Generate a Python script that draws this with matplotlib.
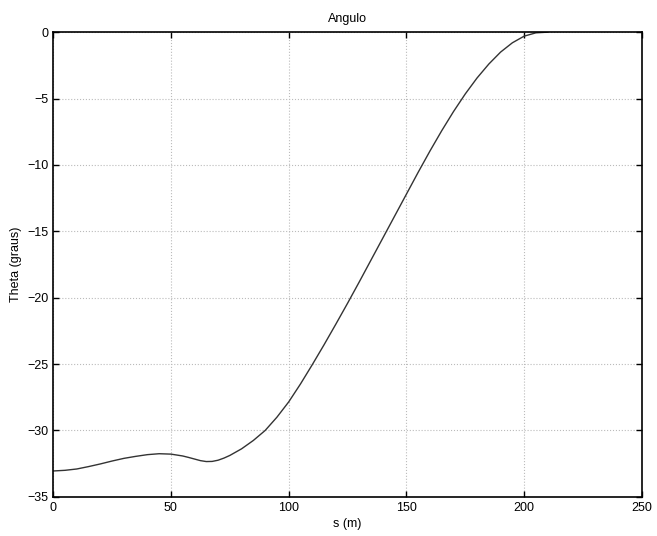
import matplotlib
matplotlib.use("Agg")
import matplotlib.pyplot as plt

# curve
s_m = [0, 5, 10, 15, 20, 25, 30, 35, 40, 45, 50, 55, 57.5, 60, 62.5, 65,
       67.5, 70, 72.5, 75, 80, 85, 90, 95, 100, 105, 110, 115, 120, 125,
       130, 135, 140, 145, 150, 155, 160, 165, 170, 175, 180, 185, 190,
       195, 200, 205, 210]
theta_deg = [-33.05, -33.0, -32.9, -32.72, -32.52, -32.3, -32.1, -31.95,
             -31.82, -31.75, -31.78, -31.92, -32.03, -32.15, -32.27, -32.34,
             -32.33, -32.24, -32.08, -31.88, -31.38, -30.75, -30.0, -29.0,
             -27.85, -26.5, -25.05, -23.55, -22.0, -20.42, -18.8, -17.15,
             -15.5, -13.85, -12.2, -10.55, -8.95, -7.42, -5.98, -4.65,
             -3.45, -2.4, -1.5, -0.8, -0.3, -0.05, 0.0]

xticks = [0, 50, 100, 150, 200, 250]
yticks = [-35, -30, -25, -20, -15, -10, -5, 0]

plt.rcParams['font.family'] = ['Liberation Sans', 'DejaVu Sans']

fig = plt.figure(figsize=(6.57, 5.36), dpi=100)
ax = fig.add_axes([0.081, 0.073, 0.896, 0.867])

ax.plot(s_m, theta_deg, color='#333333', linewidth=1.0)

ax.set_xlim(0, 250)
ax.set_ylim(-35, 0)
ax.set_xticks(xticks)
ax.set_yticks(yticks)
ax.grid(True, linestyle=':', color='#bbbbbb', linewidth=0.8)
ax.tick_params(direction='in', top=True, right=True, length=4, width=1,
               labelsize=9, colors='black')
for sp in ax.spines.values():
    sp.set_linewidth(1.2)
    sp.set_color('black')

ax.set_title('Angulo', fontsize=9, pad=7)
ax.set_xlabel('s (m)', fontsize=9, labelpad=3)
ax.set_ylabel('Theta (graus)', fontsize=9, labelpad=4)

fig.savefig('out.png', dpi=100)
